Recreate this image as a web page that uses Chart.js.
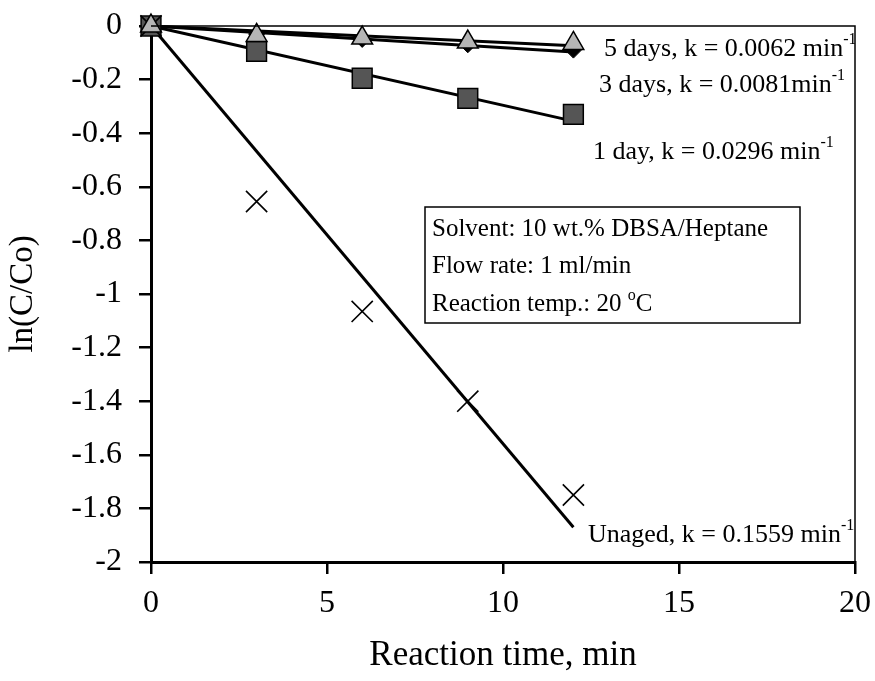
<!DOCTYPE html>
<html>
<head>
<meta charset="utf-8">
<script src="https://cdn.jsdelivr.net/npm/chart.js@4/dist/chart.umd.min.js"></script>
<style>
  html, body { margin: 0; padding: 0; background: #fff; }
  #wrap { width: 875px; height: 681px; }
</style>
</head>
<body>
<div id="wrap"><canvas id="chart" width="875" height="681"></canvas></div>
<script>
// reaction time (min)
const times = [0, 3, 6, 9, 12];

// ln(C/Co)
const unaged = [0, -0.655, -1.065, -1.40, -1.75];
const day1 = [0, -0.095, -0.195, -0.27, -0.33];
const day3 = [0, -0.03, -0.05, -0.07, -0.09];
const day5 = [0, -0.035, -0.045, -0.06, -0.065];

// fitted lines, start and end points
const fitTimes = [0, 12];
const unagedFit = [0, -1.87];
const day1Fit = [0, -0.355];
const day3Fit = [0, -0.097];
const day5Fit = [0, -0.074];

const yTicks = [0, -0.2, -0.4, -0.6, -0.8, -1, -1.2, -1.4, -1.6, -1.8, -2];

const serif = "'Liberation Serif', 'Times New Roman', serif";

function pts(xs, ys) {
    return xs.map((x, i) => ({ x: x, y: ys[i] }));
}

function fitLine(ys) {
    return {
        data: pts(fitTimes, ys),
        showLine: true,
        borderColor: "#000",
        borderWidth: 3,
        pointRadius: 0,
        order: 5
    };
}

// text with a superscript part
function supText(ctx, x, y, parts, size) {
    parts.forEach((p) => {
        if (p.sup) {
            ctx.font = Math.round(size * 0.62) + "px " + serif;
            ctx.fillText(p.t, x, y - size * 0.45);
        } else {
            ctx.font = size + "px " + serif;
            ctx.fillText(p.t, x, y);
        }
        x += ctx.measureText(p.t).width;
    });
}

const notes = {
    id: "notes",
    afterDatasetsDraw(chart) {
        const ctx = chart.ctx;
        const a = chart.chartArea;
        ctx.save();
        // frame on top and right
        ctx.strokeStyle = "#000";
        ctx.lineWidth = 1.5;
        ctx.beginPath();
        ctx.moveTo(a.left, a.top);
        ctx.lineTo(a.right, a.top);
        ctx.lineTo(a.right, a.bottom);
        ctx.stroke();

        ctx.beginPath();
        ctx.rect(a.left, a.top - 30, a.right - a.left, a.bottom - a.top + 30);
        ctx.clip();
        ctx.fillStyle = "#000";
        ctx.textBaseline = "alphabetic";
        ctx.textAlign = "left";
        const fs = 26;
        supText(ctx, 604, 56, [{ t: "5 days, k = 0.0062 min" }, { t: "-1", sup: true }], fs);
        supText(ctx, 599, 92, [{ t: "3 days, k = 0.0081min" }, { t: "-1", sup: true }], fs);
        supText(ctx, 593, 159, [{ t: "1 day, k = 0.0296 min" }, { t: "-1", sup: true }], fs);
        supText(ctx, 588, 542, [{ t: "Unaged, k = 0.1559 min" }, { t: "-1", sup: true }], fs);

        // conditions box
        ctx.lineWidth = 1.5;
        ctx.strokeRect(425, 207, 375, 116);
        supText(ctx, 432, 236, [{ t: "Solvent: 10 wt.% DBSA/Heptane" }], 25);
        supText(ctx, 432, 273, [{ t: "Flow rate: 1 ml/min" }], 25);
        supText(ctx, 432, 311, [{ t: "Reaction temp.: 20 " }, { t: "o", sup: true }, { t: "C" }], 25);
        ctx.restore();
    }
};

new Chart(document.getElementById("chart"), {
    type: "scatter",
    data: {
        datasets: [
            fitLine(unagedFit),
            fitLine(day1Fit),
            fitLine(day3Fit),
            fitLine(day5Fit),
            {
                label: "Unaged",
                data: pts(times, unaged),
                pointStyle: "crossRot",
                pointRadius: 15,
                borderColor: "#000",
                borderWidth: 1.6,
                order: 1
            },
            {
                label: "1 day",
                data: pts(times, day1),
                pointStyle: "rect",
                pointRadius: 14,
                backgroundColor: "#555",
                borderColor: "#000",
                borderWidth: 1.5,
                order: 2
            },
            {
                label: "3 days",
                data: pts(times, day3),
                pointStyle: "rectRot",
                pointRadius: 8,
                backgroundColor: "#000",
                borderColor: "#000",
                borderWidth: 1,
                order: 3
            },
            {
                label: "5 days",
                data: pts(times, day5),
                pointStyle: "triangle",
                pointRadius: 12,
                backgroundColor: "#b5b5b5",
                borderColor: "#000",
                borderWidth: 1.5,
                order: 0
            }
        ]
    },
    options: {
        responsive: false,
        animation: false,
        clip: false,
        layout: { padding: { top: 26, right: 20, left: 0, bottom: 0 } },
        plugins: {
            legend: { display: false },
            tooltip: { enabled: false }
        },
        scales: {
            x: {
                type: "linear",
                min: 0,
                max: 20,
                ticks: {
                    stepSize: 5,
                    color: "#000",
                    padding: 10,
                    font: { family: serif, size: 32 }
                },
                grid: { drawOnChartArea: false, drawTicks: true, tickLength: 12, color: "#000", lineWidth: 2.5 },
                border: { color: "#000", width: 3 },
                title: {
                    display: true,
                    text: "Reaction time, min",
                    color: "#000",
                    padding: { top: 8 },
                    font: { family: serif, size: 35 }
                },
                afterFit(scale) {
                    scale.height = 119;
                    scale.paddingLeft = 0;
                    scale.paddingRight = 0;
                }
            },
            y: {
                type: "linear",
                min: -2,
                max: 0,
                afterBuildTicks(scale) {
                    scale.ticks = yTicks.map((v) => ({ value: v }));
                },
                ticks: {
                    color: "#000",
                    padding: 17,
                    font: { family: serif, size: 32 },
                    callback: (v) => String(+v.toFixed(1))
                },
                grid: { drawOnChartArea: false, drawTicks: true, tickLength: 12, color: "#000", lineWidth: 2.5 },
                border: { color: "#000", width: 3 },
                title: {
                    display: true,
                    text: "ln(C/Co)",
                    color: "#000",
                    padding: { bottom: 0 },
                    font: { family: serif, size: 33 }
                },
                afterFit(scale) {
                    scale.width = 151;
                    scale.paddingTop = 0;
                    scale.paddingBottom = 0;
                }
            }
        }
    },
    plugins: [notes]
});
</script>
</body>
</html>
